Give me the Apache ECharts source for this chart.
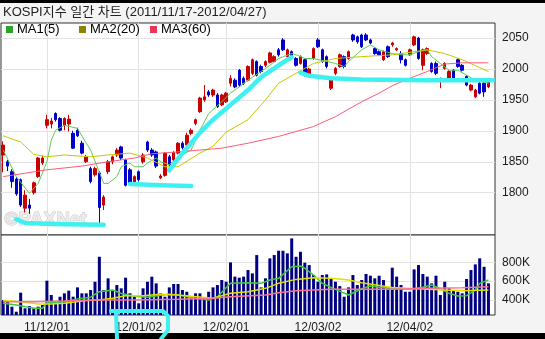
<!DOCTYPE html>
<html><head><meta charset="utf-8">
<script src="https://cdn.jsdelivr.net/npm/echarts@6/dist/echarts.min.js"></script>
<style>html,body{margin:0;padding:0;background:#f4f4f4}#c{width:545px;height:339px}</style>
</head><body><div id="c"></div>
<script>
const dates = ['11/11/17','11/11/18','11/11/21','11/11/22','11/11/23','11/11/24','11/11/25','11/11/28','11/11/29','11/11/30',
'11/12/01','11/12/02','11/12/05','11/12/06','11/12/07','11/12/08','11/12/09','11/12/12','11/12/13','11/12/14','11/12/15','11/12/16','11/12/19','11/12/20','11/12/21','11/12/22','11/12/23','11/12/26','11/12/27','11/12/28','11/12/29',
'12/01/02','12/01/03','12/01/04','12/01/05','12/01/06','12/01/09','12/01/10','12/01/11','12/01/12','12/01/13','12/01/16','12/01/17','12/01/18','12/01/19','12/01/20','12/01/25','12/01/26','12/01/27','12/01/30','12/01/31',
'12/02/01','12/02/02','12/02/03','12/02/06','12/02/07','12/02/08','12/02/09','12/02/10','12/02/13','12/02/14','12/02/15','12/02/16','12/02/17','12/02/20','12/02/21','12/02/22','12/02/23','12/02/24','12/02/27','12/02/28','12/02/29',
'12/03/02','12/03/05','12/03/06','12/03/07','12/03/08','12/03/09','12/03/12','12/03/13','12/03/14','12/03/15','12/03/16','12/03/19','12/03/20','12/03/21','12/03/22','12/03/23','12/03/26','12/03/27','12/03/28','12/03/29','12/03/30',
'12/04/02','12/04/03','12/04/04','12/04/05','12/04/06','12/04/09','12/04/10','12/04/12','12/04/13','12/04/16','12/04/17','12/04/18','12/04/19','12/04/20','12/04/23','12/04/24','12/04/25','12/04/26','12/04/27'];

const openP  = [1861,1850,1834,1822,1821,1775,1780,1800,1826,1848, 1909,1911,1928,1920,1909,1911,1896,1901,1880,1850,1839,1829,1832,1780,1834,1850,1861,1874,1853,1837,1815, 1834,1850,1882,1869,1866,1824,1828,1858,1853,1864,1880,1877,1896,1912,1931,1950,1963,1958,1958,1942, 1947,1977,1982,1998,1985,1982,1993,2012,2004,2006,2011,2012,2031,2047,2020,2028,2017,2009,2015,1990,2017, 2047,2031,2020,1969,1993,2004,2020,2017,2055,2052,2055,2055,2047,2033,2028,2015,2036,2039,2031,2025,2015, 2023,2039,2050,2006,2025,2009,2009,1984,2001,1985,1998,2015,2006,1988,1966,1955,1977,1977,1971];
const closeP = [1877,1843,1818,1798,1780,1796,1775,1816,1856,1856, 1918,1916,1918,1901,1920,1919,1872,1892,1864,1858,1818,1839,1776,1793,1850,1858,1869,1856,1812,1816,1826, 1821,1861,1869,1861,1843,1827,1864,1845,1865,1880,1873,1893,1901,1918,1953,1955,1958,1966,1939,1958, 1961,1985,1971,1974,1977,2004,2015,1990,1996,2012,2026,2020,2023,2031,2031,2020,2006,2020,1990,2000,2033, 2036,2012,2004,1985,2001,2023,2004,2028,2047,2044,2036,2047,2042,2025,2023,2028,2020,2042,2033,2015,2006, 2031,2052,2017,2031,2033,1996,1993,1985,2009,1996,1985,2004,1998,1974,1974,1966,1961,1963,1979];
const lowP   = [1833,1835,1808,1795,1777,1768,1766,1797,1824,1845, 1904,1904,1915,1899,1901,1899,1871,1890,1862,1848,1815,1826,1751,1772,1830,1846,1858,1853,1810,1814,1812, 1818,1847,1866,1858,1840,1822,1826,1843,1850,1862,1870,1874,1893,1909,1929,1947,1955,1955,1937,1940, 1945,1972,1969,1971,1974,1980,1990,1988,1993,2003,2009,2010,2020,2029,2018,2017,2004,2007,1988,1987,2015, 2034,2010,2001,1966,1990,2002,2001,2015,2044,2041,2034,2045,2040,2023,2021,2013,2018,2036,2029,2009,2004, 2021,2037,2015,1998,2023,1994,1990,1969,1999,1983,1983,2002,1996,1972,1964,1953,1959,1955,1969];
const highP  = [1883,1853,1838,1825,1823,1804,1790,1818,1858,1860, 1926,1921,1930,1922,1922,1926,1900,1905,1884,1861,1842,1842,1835,1796,1853,1860,1872,1876,1855,1840,1828, 1836,1864,1884,1872,1868,1830,1866,1861,1867,1882,1883,1897,1904,1920,1955,1974,1966,1968,1961,1960, 1963,1990,1985,2000,1988,2006,2017,2014,2007,2014,2028,2022,2034,2050,2033,2030,2019,2022,2017,2002,2035, 2050,2033,2022,1987,2003,2025,2022,2030,2057,2054,2057,2058,2049,2035,2030,2030,2038,2044,2035,2029,2017, 2033,2054,2052,2033,2035,2011,2012,1986,2011,1998,2000,2017,2008,1990,1976,1968,1979,1979,1981];

// volume in thousands
const volumeK = [400,382,329,276,478,312,336,312,329,347, 605,453,382,435,471,499,435,534,471,471,506,594,859,506,630,506,559,524,637,471,435, 365,524,594,648,577,471,435,534,570,570,506,488,418,471,471,418,488,534,559,612, 594,799,648,637,648,718,683,877,534,630,842,877,923,923,895,1054,859,912,796,771,665, 594,665,672,630,594,548,435,534,665,559,612,676,658,630,658,612,524,743,648,559,488, 488,725,771,676,648,577,658,453,594,524,506,488,471,623,718,778,842,753,577];

// moving averages: [day index, value]
const ma5  = [[0,1869],[3,1826],[6,1799],[8,1815],[10,1850],[11,1885],[12,1901],[14,1909],[17,1904],[19,1880],[20,1869],[23,1815],[24,1815],[26,1826],[27,1842],[29,1848],[30,1842],[32,1842],[33,1848],[35,1856],[36,1850],[38,1845],[40,1858],[43,1869],[45,1901],[47,1928],[50,1947],[52,1961],[54,1971],[56,1982],[59,1996],[61,2006],[63,2017],[66,2025],[67,2023],[69,2017],[71,2017],[76,2009],[78,2004],[79,2012],[82,2031],[84,2039],[86,2031],[89,2025],[91,2023],[93,2023],[95,2028],[97,2031],[98,2020],[100,2009],[102,1998],[104,1998],[106,1990],[108,1982],[111,1977]];
const ma20 = [[0,1892],[4,1882],[7,1862],[10,1858],[14,1861],[20,1858],[24,1861],[29,1864],[33,1856],[37,1842],[40,1842],[45,1864],[48,1875],[51,1898],[56,1918],[60,1950],[63,1977],[67,1993],[71,2009],[76,2017],[82,2020],[89,2023],[97,2031],[101,2025],[105,2015],[111,1996]];
const ma60 = [[0,1826],[10,1837],[18,1843],[24,1850],[30,1856],[34,1863],[40,1866],[50,1872],[56,1880],[63,1891],[71,1907],[76,1923],[82,1947],[86,1961],[89,1973],[93,1985],[97,1996],[101,2008],[105,2010],[111,2010]];
const vma5  = [[0,365],[3,347],[7,312],[9,312],[10,372],[14,382],[17,412],[20,430],[22,488],[25,506],[27,470],[30,440],[33,430],[36,450],[38,462],[40,453],[44,418],[47,400],[49,435],[52,577],[56,584],[59,577],[61,612],[63,630],[66,753],[68,761],[69,737],[71,665],[73,577],[76,513],[79,453],[82,520],[84,548],[86,535],[89,524],[93,513],[96,535],[98,559],[99,541],[102,471],[104,443],[106,446],[108,506],[109,577],[111,612]];
const vma20 = [[0,394],[4,382],[8,357],[11,357],[14,365],[19,394],[22,400],[25,418],[28,446],[32,446],[36,460],[40,453],[48,418],[52,471],[56,488],[60,524],[63,577],[67,619],[71,637],[75,630],[79,612],[82,584],[89,534],[97,513],[105,499],[111,506]];
const vma60 = [[0,382],[7,382],[14,389],[22,400],[30,400],[40,407],[48,418],[52,435],[60,453],[63,478],[67,499],[71,506],[75,513],[82,513],[89,513],[97,524],[105,531],[111,541]];

// hand-drawn cyan marks on the chart: [day index, price]
const cyanLow   = [[3,1757],[5,1751],[14,1749],[23,1748]];
const cyanJan   = [[29,1814],[36,1812],[43,1811]];
const cyanTrend = [[38,1836],[40,1855],[42,1872],[45,1897],[48,1918],[52,1942],[56,1966],[59,1987],[63,2006],[65,2015],[66,2019]];
const cyanFlat  = [[68,1994],[70,1989],[75,1985],[82,1983],[97,1982],[112,1982]];

const xTickLabels = ['11/12/01','12/01/02','12/02/01','12/03/02','12/04/02'];
const priceTicks = [1800,1850,1900,1950,2000,2050];
const volumeTicks = [400,600,800];
const titleText = 'KOSPI지수 일간 차트 (2011/11/17-2012/04/27)';

const cats = dates.concat(['']);
const tickIdx = xTickLabels.map(l => dates.indexOf(l));
const isTick = (i) => tickIdx.indexOf(i) >= 0;
const FONT = 'Liberation Sans, Arial, Noto Sans CJK KR, sans-serif';
const GRID_C = '#e2e2e2';

const chart = echarts.init(document.getElementById('c'), null, {renderer:'canvas'});
const xCommon = (gi, showLabel) => ({
  type:'category', gridIndex:gi, data:cats, boundaryGap:true,
  axisLine:{show:false}, axisTick:{show:false, interval:(i)=>isTick(i), alignWithLabel:true},
  axisLabel:{show:showLabel, interval:(i)=>isTick(i), color:'#1a1a1a', fontSize:12, fontFamily:FONT, margin:7},
  splitLine:{show:true, interval:(i)=>isTick(i), alignWithLabel:true, lineStyle:{color:GRID_C, width:1}}
});
const lineS = (name, data, color, width, xi, yi) => ({
  name, type:'line', xAxisIndex:xi, yAxisIndex:yi, data, symbol:'none', silent:true,
  lineStyle:{color, width}, itemStyle:{color}, z:3, connectNulls:true
});
const cyanS = (data) => ({
  type:'line', xAxisIndex:0, yAxisIndex:0, data, symbol:'none', silent:true, z:10,
  lineStyle:{color:'#3ef0f0', width:4.5, cap:'round', join:'round'}
});
const legendItem = (name, color, left) => ({
  data:[{name, itemStyle:{color}}], left, top:23, padding:0, icon:'rect',
  itemWidth:7, itemHeight:7, itemGap:0, selectedMode:false,
  textStyle:{color:'#000', fontSize:13, fontFamily:FONT, padding:[0,0,0,-1]}
});

chart.setOption({
  animation:false,
  backgroundColor:'#f4f4f4',
  textStyle:{fontFamily:FONT},
  grid:[
    {left:1, top:23, width:494, height:212, show:true, backgroundColor:'#fff', borderColor:'#333', borderWidth:1},
    {left:1, top:235, width:494, height:80, show:true, backgroundColor:'#fff', borderColor:'#333', borderWidth:1}
  ],
  legend:[legendItem('MA1(5)','#2aa52a',6), legendItem('MA2(20)','#868600',79), legendItem('MA3(60)','#ee3355',150)],
  xAxis:[xCommon(0,false), xCommon(1,true)],
  yAxis:[
    {type:'value', gridIndex:0, position:'right', min:1731.6, max:2074.4, scale:true,
     axisLine:{show:false}, axisTick:{show:false, customValues:priceTicks},
     axisLabel:{customValues:priceTicks, color:'#1a1a1a', fontSize:12, fontFamily:FONT, margin:7, formatter:(v)=>String(v)},
     splitLine:{lineStyle:{color:GRID_C}}},
    {type:'value', gridIndex:1, position:'right', min:241, max:1090,
     axisLine:{show:false}, axisTick:{show:false, customValues:volumeTicks},
     axisLabel:{customValues:volumeTicks, color:'#1a1a1a', fontSize:12, fontFamily:FONT, margin:7, formatter:(v)=>v+'K'},
     splitLine:{lineStyle:{color:GRID_C}}}
  ],
  series:[
    {type:'candlestick', name:'KOSPI', xAxisIndex:0, yAxisIndex:0, barWidth:3, silent:true, z:2,
     data: dates.map((d,i)=>[openP[i], closeP[i], lowP[i], highP[i]]),
     itemStyle:{color:'#c80000', color0:'#0000c8', borderColor:'#c80000', borderColor0:'#0000c8', borderWidth:1}},
    lineS('MA1(5)', ma5, '#5ccc5c', 1, 0, 0),
    lineS('MA2(20)', ma20, '#c8c800', 1, 0, 0),
    lineS('MA3(60)', ma60, '#ff5a78', 1, 0, 0),
    {type:'bar', name:'Volume', xAxisIndex:1, yAxisIndex:1, barWidth:3, silent:true, z:2,
     data: volumeK, itemStyle:{color:'#000080'}},
    lineS('MA1(5)', vma5, '#3ccc3c', 1.5, 1, 1),
    lineS('MA2(20)', vma20, '#e0e000', 1.5, 1, 1),
    lineS('MA3(60)', vma60, '#ff7090', 1.5, 1, 1),
    cyanS(cyanLow), cyanS(cyanJan), cyanS(cyanTrend), cyanS(cyanFlat)
  ],
  graphic:[
    {type:'text', left:4, top:210, z:1, silent:true,
     style:{text:'©PAXNet', font:'bold 19px Liberation Sans, Arial, sans-serif', fill:'#ececec', stroke:'#c8c8c8', lineWidth:1}},
    {type:'text', left:3, top:6, z:20, silent:true,
     style:{text:titleText, font:'13px Liberation Sans, Arial, Noto Sans CJK KR, sans-serif', fill:'#222'}},
    {type:'rect', left:0, top:0, z:50, silent:true, shape:{width:545, height:3}, style:{fill:'#000'}},
    {type:'rect', left:0, top:333, z:50, silent:true, shape:{width:545, height:6}, style:{fill:'#000'}},
    {type:'polyline', z:100, silent:true, shape:{points:[[111,311],[163,311],[168,316],[168,330],[161,339]]},
     style:{stroke:'#3ef0f0', lineWidth:4, fill:null, lineJoin:'round', lineCap:'round'}},
    {type:'polyline', z:100, silent:true, shape:{points:[[116,312],[117,339]]},
     style:{stroke:'#3ef0f0', lineWidth:4, fill:null, lineCap:'round'}}
  ]
});
</script></body></html>
